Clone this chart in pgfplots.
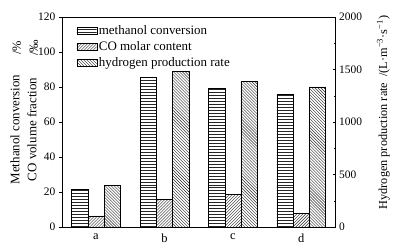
\documentclass[border=0pt]{standalone}
\usepackage{fontspec}
\setmainfont{Liberation Serif}
\usepackage{pgfplots}
\pgfplotsset{compat=1.18}
\usetikzlibrary{patterns}
\begin{document}
\begin{tikzpicture}
\path (-62pt,-24pt) rectangle (331pt,228pt);
\pgfplotsset{
  common/.style={
    at={(0pt,0pt)}, anchor=south west,
    scale only axis, width=275pt, height=211pt,
    xmin=-0.5, xmax=3.5,
    ybar, bar width=0.237,
    /pgf/number format/assume math mode=true,
    tick label style={font=\fontsize{11.5}{12}\selectfont},
    tick style={black, thin},
  },
  mstyle/.style={draw=black, thin, pattern=horizontal lines, pattern color=black!85},
  cstyle/.style={draw=black, thin, pattern=north east lines, pattern color=black!85},
  hstyle/.style={draw=black, thin, pattern=north west lines, pattern color=black!85},
}
% right axis: hydrogen production rate
\begin{axis}[common,
  ymin=0, ymax=2000,
  axis y line*=right, axis x line=none,
  ytick={0,500,1000,1500,2000},
  minor ytick={250,750,1250,1750},
  tick align=inside,
  major tick length=3pt, minor tick length=2pt,
  xtick=\empty,
  yticklabel style={/pgf/number format/1000 sep={}},
]
\addplot[hstyle, bar shift=0.237] coordinates {(0,400) (1,1482) (2,1387) (3,1334)};
\end{axis}
% left axis
\begin{axis}[common,
  ymin=0, ymax=120,
  ytick={0,20,40,60,80,100,120},
  ytick pos=left,
  tick align=outside,
  major tick length=3pt,
  xtick={0,1,2,3}, xticklabels={a,b,c,d},
  x tick style={draw=none},
  xticklabel style={font=\fontsize{12.5}{13}\selectfont},
  legend style={draw=none, fill=none, at={(0.05,0.975)}, anchor=north west,
    font=\fontsize{13}{14}\selectfont, row sep=1.5pt, inner sep=1pt},
  legend cell align=left,
  legend image code/.code={\draw[#1] (0pt,-3.5pt) rectangle (20pt,3.5pt);},
]
\addplot[mstyle, bar shift=-0.237] coordinates {(0,21.5) (1,85.5) (2,79.4) (3,76)};
\addlegendentry{methanol conversion}
\addplot[cstyle, bar shift=0] coordinates {(0,6.3) (1,15.8) (2,18.8) (3,8)};
\addlegendentry{CO molar content}
\addlegendimage{hstyle}
\addlegendentry{hydrogen production rate}
\end{axis}
% axis labels
\node[rotate=90, font=\fontsize{13}{14}\selectfont] at (-47pt,98pt) {Methanol conversion};
\node[rotate=90, font=\fontsize{12.5}{14}\selectfont] at (-45pt,180pt) {/\%};
\node[rotate=90, font=\fontsize{13}{14}\selectfont] at (-30pt,98pt) {CO volume fraction};
\node[rotate=90, font=\fontsize{12.5}{14}\selectfont] at (-28pt,180pt) {/‰};
\node[rotate=90, font=\fontsize{12.3}{14}\selectfont] at (323pt,115pt) {Hydrogen production rate\enspace /(L·m\textsuperscript{−3}·s\textsuperscript{−1})};
\end{tikzpicture}
\end{document}
